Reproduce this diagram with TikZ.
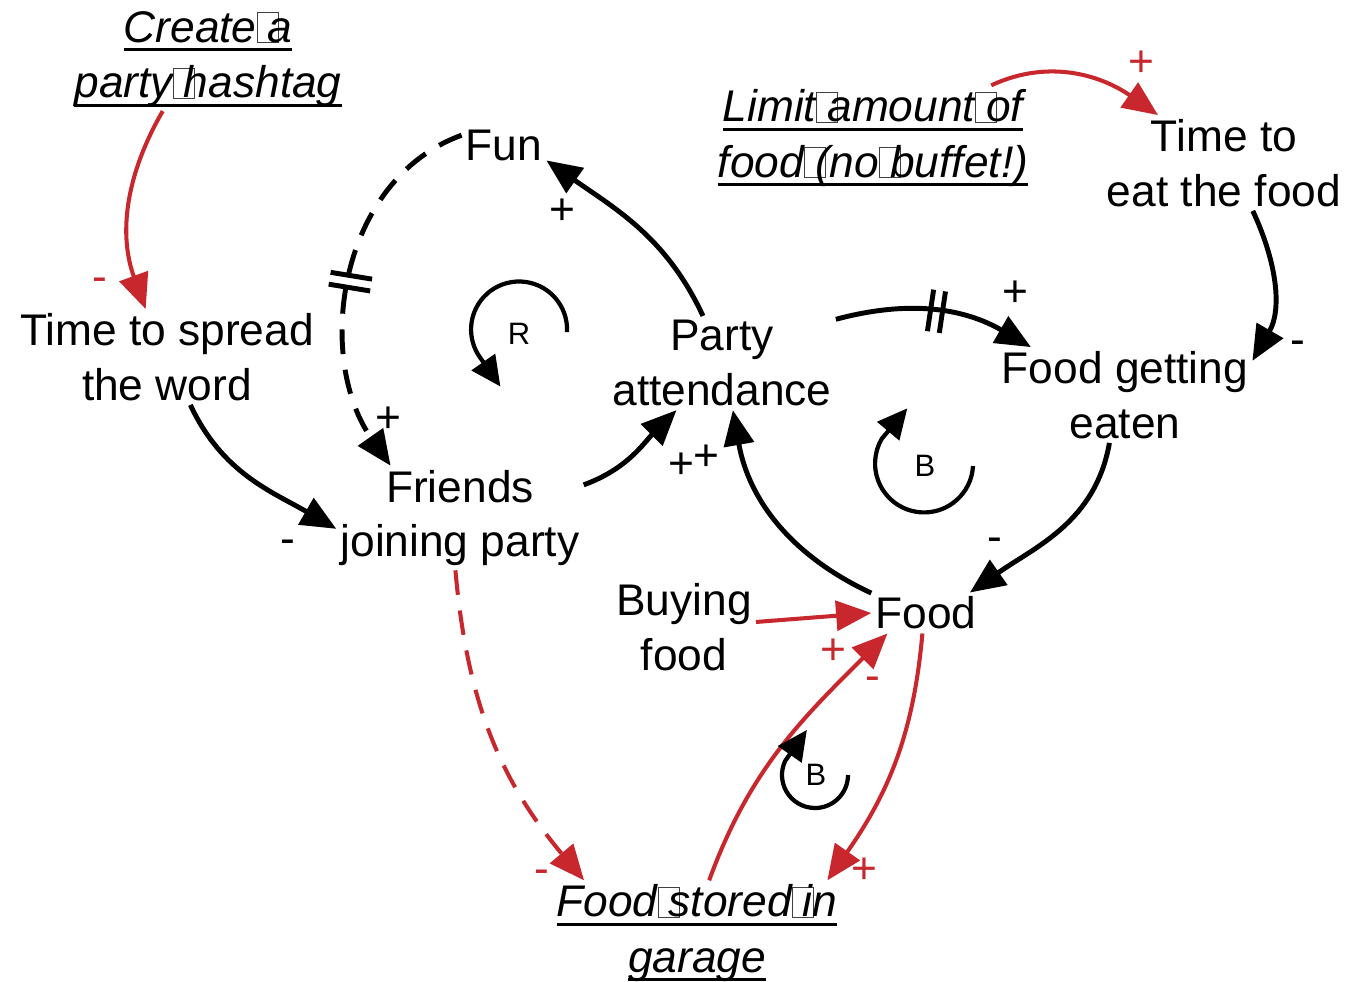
\documentclass[tikz,border=0pt]{standalone}
\usepackage{fontspec}
\setmainfont{Liberation Sans}
\usetikzlibrary{arrows.meta,decorations.markings}
\usepackage{xcolor}
\definecolor{loopred}{RGB}{200,40,45}
\newcommand\ulbl[1]{\leavevmode\setbox0\hbox{#1}\rlap{\rule[-2.6pt]{\wd0}{0.85pt}}\box0}
\newcommand\gapbox{\makebox[0.25em][l]{\color{darkgray}\fboxsep0pt\fboxrule0.3pt\fbox{\rule{0pt}{0.65em}\hspace{0.45em}}}}

\begin{document}
\begin{tikzpicture}[x=0.01cm,y=0.01cm,
	var/.style={align=center,inner sep=1pt,font=\fontsize{12.6}{15.6}\selectfont},
	ext/.style={var,font=\fontsize{12.6}{15.8}\selectfont\itshape},
	pol/.style={inner sep=0pt,font=\fontsize{12.6}{15}\selectfont},
	looplbl/.style={inner sep=0pt,font=\fontsize{8.8}{10}\selectfont},
	link/.style={line width=1.4pt,-{Triangle[length=10pt,width=8.5pt]}},
	redlink/.style={link,draw=loopred,line width=1.15pt},
	loopsign/.style={line width=1.2pt,-{Triangle[length=8.5pt,width=8pt]}},
	delaymarks/.style={postaction={decorate,decoration={markings,
		mark=at position #1 with {\draw[-,solid,line width=1.4pt] (-6,-21) -- (-6,21) (6,-21) -- (6,21);}}}}]
	\useasboundingbox (0,0) rectangle (1366,-981);
	% variables
	\node[ext] (hashtag) at (208,-59) {\ulbl{Create\gapbox a}\\\ulbl{party\gapbox hashtag}};
	\node[ext] (limit) at (873,-138) {\ulbl{Limit\gapbox amount\gapbox of}\\\ulbl{food\gapbox (no\gapbox buffet!)}};
	\node[ext] (garage) at (697,-933) {\ulbl{Food\gapbox stored\gapbox in}\\\ulbl{garage}};
	\node[var] (fun) at (504,-145) {Fun};
	\node[var] (eattime) at (1224,-163) {Time to\\eat the food};
	\node[var] (spread) at (167,-357) {Time to spread\\the word};
	\node[var] (party) at (722,-363) {Party\\attendance};
	\node[var] (eaten) at (1125,-395) {Food getting\\eaten};
	\node[var] (friends) at (460,-518) {Friends\\joining party};
	\node[var] (buying) at (684,-627) {Buying\\food};
	\node[var] (food) at (926,-613) {Food};
	% links
	\draw[redlink] (hashtag.-131) to[out=240,in=110] (spread.114);
	\draw[link] (spread.-64) to[out=-65,in=150] (friends.-175);
	\draw[link,dashed,dash pattern=on 7pt off 4.5pt,delaymarks=0.5] (fun.167) to[out=200,in=125] (friends.143);
	\draw[link] (friends.15) to[out=20,in=225] (party.-134);
	\draw[link] (party.112) to[out=115,in=-35] (fun.-20);
	\draw[link,delaymarks=0.5] (party.21) to[out=15,in=150] (eaten.153);
	\draw[link] (eattime.-59) to[out=-65,in=60] (eaten.15);
	\draw[link] (eaten.-108) to[out=-100,in=35] (food.25);
	\draw[link] (food.160) to[out=155,in=-80] (party.-77);
	\draw[redlink] (buying.4) -- (food.180);
	\draw[redlink] (limit.24) to[out=25,in=145] (eattime.144);
	\draw[redlink,dashed,dash pattern=on 7pt off 4.5pt] (friends.-95) to[out=-85,in=130] (garage.155);
	\draw[redlink] (garage.77) to[out=70,in=225] (food.-152);
	\draw[redlink] (food.-100) to[out=-95,in=55] (garage.22);
	% polarities
	\node[pol,loopred] (p1) at (100,-285) {-};
	\node[pol] (p2) at (288,-547) {-};
	\node[pol] (p3) at (388,-420) {+};
	\node[pol] (p4) at (562,-212) {+};
	\node[pol] (p5) at (681,-466) {+};
	\node[pol] (p6) at (706,-458) {+};
	\node[pol] (p7) at (1015,-294) {+};
	\node[pol] (p8) at (1298,-348) {-};
	\node[pol] (p9) at (995,-545) {-};
	\node[pol,loopred] (p10) at (833,-652) {+};
	\node[pol,loopred] (p11) at (873,-684) {-};
	\node[pol,loopred] (p12) at (864,-871) {+};
	\node[pol,loopred] (p13) at (542,-877) {-};
	\node[pol,loopred] (p14) at (1141,-64) {+};
	% loop signs
	\draw[loopsign] (567,-332) arc[start angle=-3,end angle=215,radius=48] -- ++(-55:36);
	\node[looplbl] (rloop) at (519,-334) {R};
	\draw[loopsign] (973,-466) arc[start angle=-3,end angle=-210,radius=49] -- ++(50:40);
	\node[looplbl] (bloopa) at (925,-466) {B};
	\draw[loopsign] (848,-775) arc[start angle=0,end angle=-205,radius=33] -- ++(55:38);
	\node[looplbl] (bloopb) at (816,-775) {B};
\end{tikzpicture}
\end{document}
